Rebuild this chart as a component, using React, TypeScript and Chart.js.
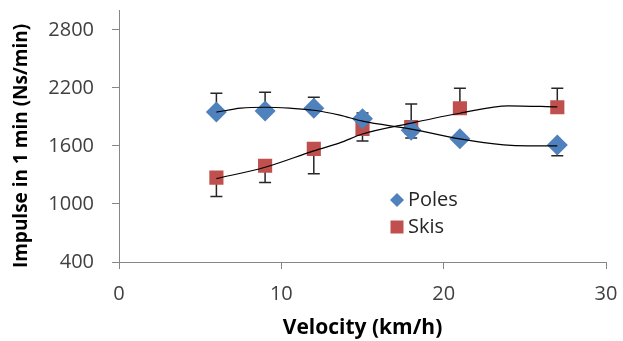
import React, { useEffect, useRef } from "react";
import { Chart, registerables } from "chart.js";

Chart.register(...registerables);

const velocities = [6, 9, 12, 15, 18, 21, 27];
const polesValues = [1950, 1960, 1990, 1880, 1762, 1675, 1610];
const skisValues = [1272, 1395, 1570, 1775, 1795, 1990, 2000];
const polesErrPlus = [195, 195, 113, 60, 0, 0, 0];
const polesErrMinus = [0, 0, 0, 0, 80, 20, 112];
const skisErrPlus = [0, 0, 0, 0, 238, 205, 195];
const skisErrMinus = [195, 174, 257, 125, 0, 0, 0];

const polesTrendX = [6, 7.5, 9, 10.5, 12, 13.6, 15, 18, 21, 23.7, 25.2, 27];
const polesTrendY = [1949, 1990, 2000, 1990, 1969, 1918, 1856, 1774, 1672, 1610, 1600, 1600];
const skisTrendX = [6, 9, 12, 13.6, 15, 18, 21, 24, 27];
const skisTrendY = [1262, 1380, 1549, 1631, 1723, 1836, 1938, 2015, 2003];

const yTicks = [400, 1000, 1600, 2200, 2800];
const xTicks = [0, 10, 20, 30];
const yTitle = "Impulse in 1 min (Ns/min)";
const xTitle = "Velocity (km/h)";

const FONT = "'Open Sans', 'Liberation Sans', sans-serif";
const BLUE = "#4F81BD";
const RED = "#C0504D";

const errorBarPlugin = {
  id: "errorBars",
  beforeDatasetsDraw(chart: any) {
    const ctx = chart.ctx;
    const xs = chart.scales.x;
    const ys = chart.scales.y;
    const sets = [
      { v: polesValues, p: polesErrPlus, m: polesErrMinus },
      { v: skisValues, p: skisErrPlus, m: skisErrMinus },
    ];
    ctx.save();
    ctx.strokeStyle = "#262626";
    ctx.lineWidth = 1.5;
    sets.forEach((s) => {
      velocities.forEach((vx, i) => {
        const px = xs.getPixelForValue(vx);
        const py = ys.getPixelForValue(s.v[i]);
        const ends: number[] = [];
        if (s.p[i] > 0) ends.push(s.v[i] + s.p[i]);
        if (s.m[i] > 0) ends.push(s.v[i] - s.m[i]);
        ends.forEach((e) => {
          const ey = ys.getPixelForValue(e);
          ctx.beginPath();
          ctx.moveTo(px, py);
          ctx.lineTo(px, ey);
          ctx.moveTo(px - 6, ey);
          ctx.lineTo(px + 6, ey);
          ctx.stroke();
        });
      });
    });
    ctx.restore();
  },
};

const legendPlugin = {
  id: "customLegend",
  afterDraw(chart: any) {
    const ctx = chart.ctx;
    ctx.save();
    ctx.fillStyle = BLUE;
    ctx.beginPath();
    ctx.moveTo(397, 193);
    ctx.lineTo(404, 200);
    ctx.lineTo(397, 207);
    ctx.lineTo(390, 200);
    ctx.closePath();
    ctx.fill();
    ctx.fillStyle = RED;
    ctx.fillRect(390.5, 220.5, 13, 13);
    ctx.fillStyle = "#262626";
    ctx.font = `20px ${FONT}`;
    ctx.textBaseline = "middle";
    ctx.textAlign = "left";
    ctx.fillText("Poles", 408, 200);
    ctx.fillText("Skis", 408, 227);
    // Y axis title, centred on the tick range like the original
    const ys = chart.scales.y;
    const cy = (ys.getPixelForValue(yTicks[0]) + ys.getPixelForValue(yTicks[yTicks.length - 1])) / 2;
    ctx.translate(22, cy);
    ctx.rotate(-Math.PI / 2);
    ctx.textAlign = "center";
    ctx.fillStyle = "#000000";
    ctx.font = `bold 19px ${FONT}`;
    ctx.fillText(yTitle, 0, 0);
    ctx.restore();
  },
};

export default function App() {
  const ref = useRef<HTMLCanvasElement | null>(null);
  useEffect(() => {
    if (!ref.current) return;
    const chart = new Chart(ref.current, {
      type: "scatter",
      data: {
        datasets: [
          {
            label: "Poles trend",
            type: "line",
            data: polesTrendX.map((x, i) => ({ x, y: polesTrendY[i] })),
            borderColor: "#000000",
            borderWidth: 1.2,
            pointRadius: 0,
            cubicInterpolationMode: "monotone",
            fill: false,
            order: 0,
          },
          {
            label: "Skis trend",
            type: "line",
            data: skisTrendX.map((x, i) => ({ x, y: skisTrendY[i] })),
            borderColor: "#000000",
            borderWidth: 1.2,
            pointRadius: 0,
            cubicInterpolationMode: "monotone",
            fill: false,
            order: 0,
          },
          {
            label: "Poles",
            data: velocities.map((x, i) => ({ x, y: polesValues[i] })),
            pointStyle: "rectRot",
            pointRadius: 10.5,
            backgroundColor: BLUE,
            borderColor: BLUE,
            borderWidth: 0,
            order: 1,
          },
          {
            label: "Skis",
            data: velocities.map((x, i) => ({ x, y: skisValues[i] })),
            pointStyle: "rect",
            pointRadius: 10,
            backgroundColor: RED,
            borderColor: RED,
            borderWidth: 0,
            order: 1,
          },
        ],
      } as any,
      options: {
        animation: false,
        responsive: true,
        maintainAspectRatio: false,
        layout: { padding: { left: 0, top: 8, right: 17, bottom: 0 } },
        plugins: { legend: { display: false }, tooltip: { enabled: false } },
        scales: {
          x: {
            type: "linear",
            min: 0,
            max: 30,
            afterBuildTicks: (axis: any) => {
              axis.ticks = xTicks.map((v) => ({ value: v }));
            },
            afterFit: (s: any) => {
              s.height = 79;
              s.paddingLeft = 0;
              s.paddingRight = 0;
            },
            grid: { drawOnChartArea: false, tickLength: 7, color: "#868686" },
            border: { color: "#868686", width: 1 },
            ticks: {
              color: "#404040",
              font: { family: FONT, size: 20 },
              padding: 13,
              maxRotation: 0,
              callback: (v: any) => String(v),
            },
            title: {
              display: true,
              text: xTitle,
              color: "#000000",
              font: { family: FONT, size: 21, weight: "bold" },
              padding: { top: 0, bottom: 0 },
            },
          },
          y: {
            type: "linear",
            min: 400,
            max: 3000,
            afterBuildTicks: (axis: any) => {
              axis.ticks = yTicks.map((v) => ({ value: v }));
            },
            afterFit: (s: any) => {
              s.width = 119;
              s.paddingTop = 0;
              s.paddingBottom = 0;
            },
            grid: { drawOnChartArea: false, tickLength: 7, color: "#868686" },
            border: { color: "#868686", width: 1 },
            ticks: {
              color: "#404040",
              font: { family: FONT, size: 20 },
              padding: 18,
              callback: (v: any) => String(v),
            },
            title: { display: false },
          },
        },
      } as any,
      plugins: [errorBarPlugin, legendPlugin],
    });
    return () => chart.destroy();
  }, []);
  return (
    <div style={{ position: "fixed", left: 0, top: 0, width: 623, height: 341, background: "#fff" }}>
      <canvas ref={ref} />
    </div>
  );
}
